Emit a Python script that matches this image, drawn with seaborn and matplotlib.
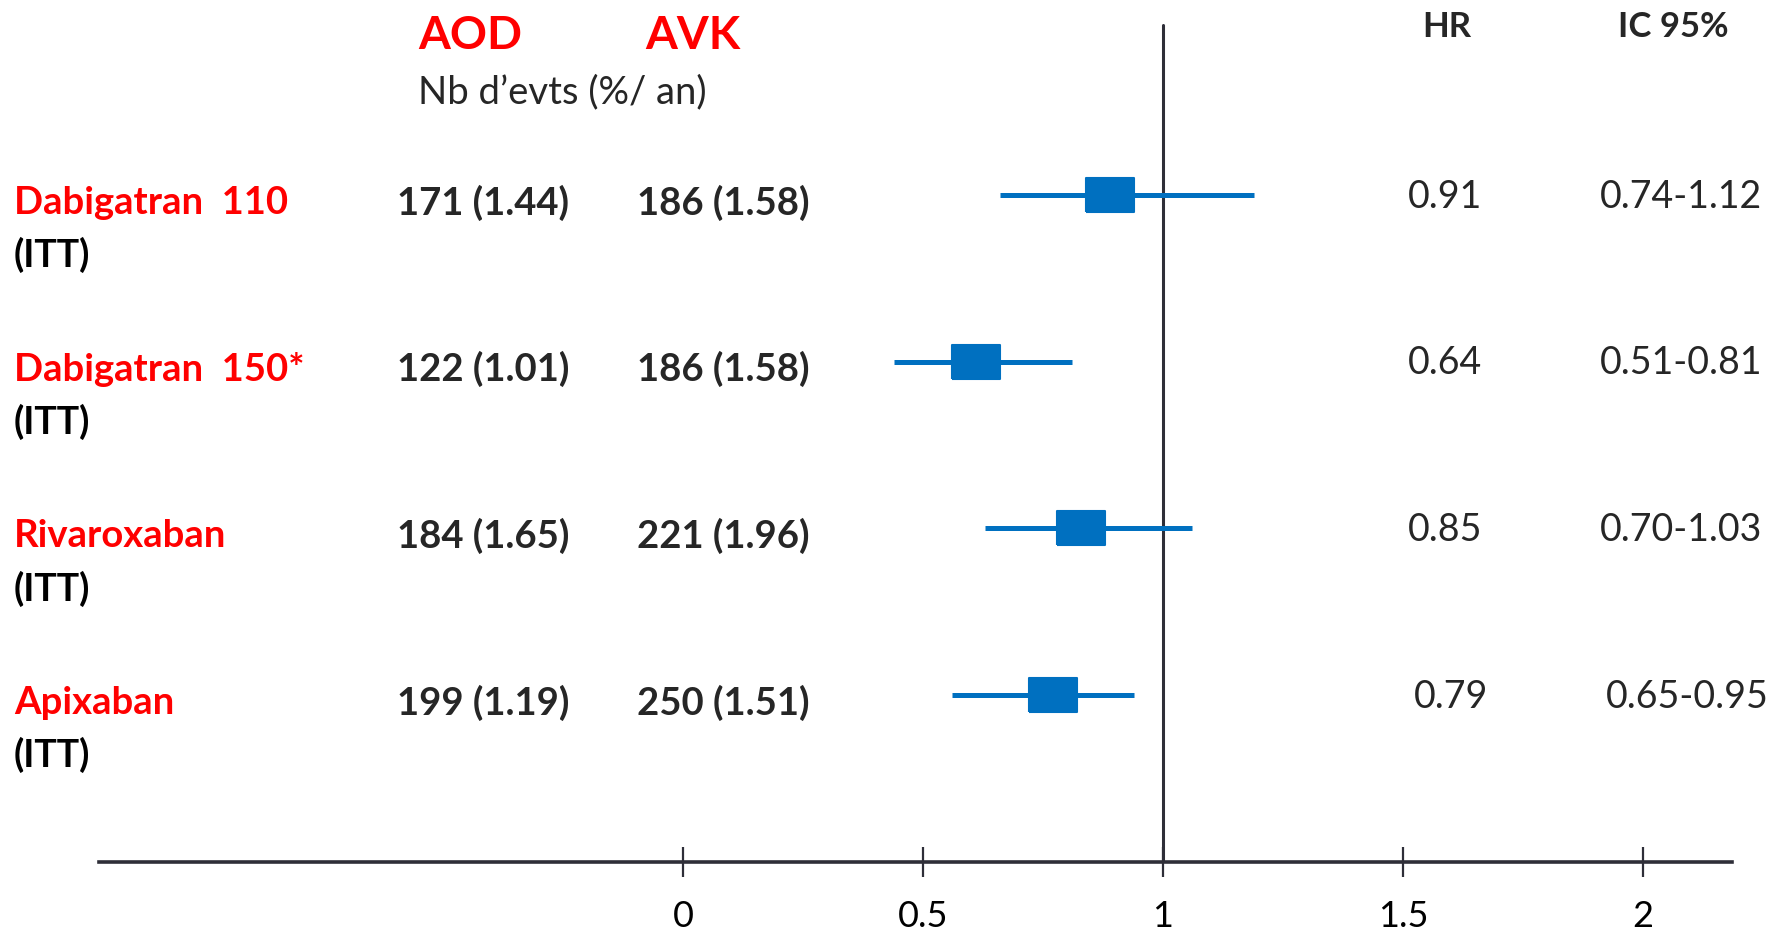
import numpy as np
import pandas as pd
import matplotlib
matplotlib.use("Agg")
import matplotlib.pyplot as plt
import matplotlib.transforms as mtransforms
import seaborn as sns

# Data
treatments = ['Dabigatran  110', 'Dabigatran  150*', 'Rivaroxaban', 'Apixaban']
populations = ['(ITT)', '(ITT)', '(ITT)', '(ITT)']
aod_n = [171, 122, 184, 199]
aod_rate = [1.44, 1.01, 1.65, 1.19]
avk_n = [186, 186, 221, 250]
avk_rate = [1.58, 1.58, 1.96, 1.51]
hr = [0.91, 0.64, 0.85, 0.79]
ci_low = [0.74, 0.51, 0.70, 0.65]
ci_high = [1.12, 0.81, 1.03, 0.95]
# positions of the drawn markers / whiskers as they appear on the slide
drawn_est = [0.89, 0.61, 0.83, 0.77]
drawn_low = [0.66, 0.44, 0.63, 0.56]
drawn_high = [1.19, 0.81, 1.06, 0.94]
xticks = [0, 0.5, 1, 1.5, 2]

RED = '#FF0000'
BLUE = '#0070C0'
DARK = '#2e2e38'

sns.set_theme(style='white')
plt.rcParams['font.family'] = ['Lato', 'DejaVu Sans']

df = pd.DataFrame({
    'row': np.arange(len(treatments)),
    'est': drawn_est,
    'low': drawn_low,
    'high': drawn_high,
})
df['ypos'] = df['row'] - 0.03

W, H = 1784, 933
fig = plt.figure(figsize=(W / 100, H / 100), dpi=100)
ax = fig.add_axes([99 / W, 1 - 862 / H, (1732 - 99) / W, 862 / H])

# whiskers
ax.hlines(df['ypos'], df['low'], df['high'], color=BLUE, lw=3.6, zorder=2)
# boxes
box = [(-1, -0.72), (1, -0.72), (1, 0.72), (-1, 0.72), (-1, -0.72)]
sns.scatterplot(data=df, x='est', y='ypos', marker=box, s=1200, color=BLUE,
                edgecolor=BLUE, linewidth=1.5, ax=ax, zorder=3, legend=False)

# reference line at HR = 1
ax.axvline(1, ymin=0, ymax=1 - 25 / 862, color=DARK, lw=2.2, zorder=1)

ax.set_xlim(-1.2167, 2.1854)
ax.set_ylim(3.971, -1.2)
ax.set_xticks(xticks)
ax.set_xticklabels([f'{t:g}' for t in xticks], fontsize=26, color='black')
ax.set_yticks([])
ax.set_xlabel('')
ax.set_ylabel('')
for side in ['top', 'left', 'right']:
    ax.spines[side].set_visible(False)
ax.spines['bottom'].set_color(DARK)
ax.spines['bottom'].set_linewidth(2.6)
ax.tick_params(axis='x', direction='inout', length=21, width=1.6,
               color=DARK, pad=17, bottom=True)
ax.patch.set_alpha(0)

# columns of text, x in figure fraction, y on rows
trans = mtransforms.blended_transform_factory(fig.transFigure, ax.transData)
for i in range(len(treatments)):
    ax.text(14 / W, i + 0.015, treatments[i], transform=trans, color=RED,
            fontsize=27.5, fontweight='bold', ha='left', va='center')
    ax.text(14 / W, i + 0.33, populations[i], transform=trans, color='black',
            fontsize=27, fontweight='bold', ha='left', va='center')
    ax.text(397 / W, i + 0.015, f'{aod_n[i]} ({aod_rate[i]:.2f})', transform=trans,
            fontsize=27.5, fontweight='bold', ha='left', va='center')
    ax.text(637 / W, i + 0.015, f'{avk_n[i]} ({avk_rate[i]:.2f})', transform=trans,
            fontsize=27.5, fontweight='bold', ha='left', va='center')
    shift = 6 / W if i == 3 else 0
    ax.text(1445 / W + shift, i - 0.02, f'{hr[i]:.2f}', transform=trans,
            fontsize=27, ha='center', va='center')
    ax.text(1681 / W + shift, i - 0.02, f'{ci_low[i]:.2f}-{ci_high[i]:.2f}',
            transform=trans, fontsize=27, ha='center', va='center')

# headers
fig.text(418 / W, 1 - 36 / H, 'AOD', color=RED, fontsize=33,
         fontweight='bold', ha='left', va='center')
fig.text(645 / W, 1 - 36 / H, 'AVK', color=RED, fontsize=33,
         fontweight='bold', ha='left', va='center')
fig.text(418 / W, 1 - 92 / H, 'Nb d\u2019evts (%/ an)', fontsize=27.5,
         ha='left', va='center')
fig.text(1447 / W, 1 - 27 / H, 'HR', fontsize=25, fontweight='bold',
         ha='center', va='center')
fig.text(1673 / W, 1 - 27 / H, 'IC 95%', fontsize=25, fontweight='bold',
         ha='center', va='center')

fig.savefig('out.png', dpi=100, facecolor='white')
